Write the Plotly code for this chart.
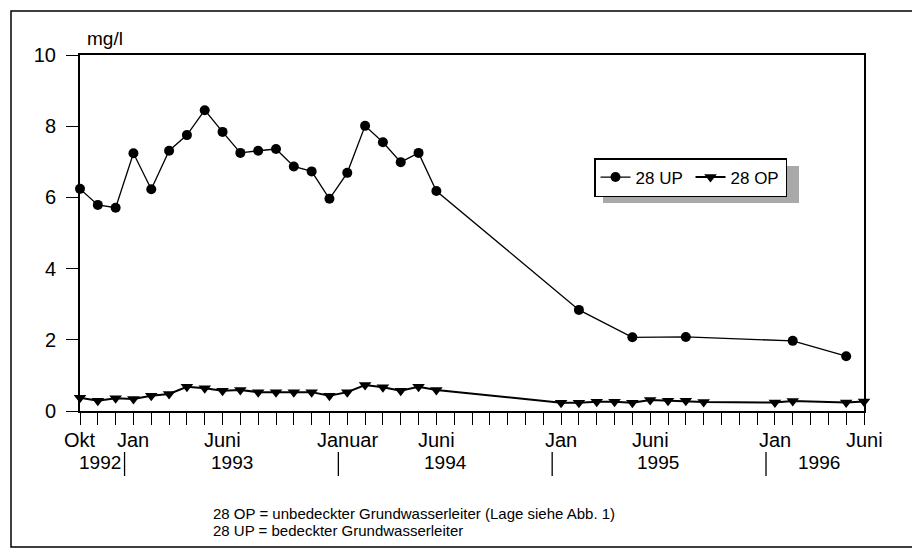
import plotly.graph_objects as go

# ---- data ----
up_dates = ["1992-10", "1992-11", "1992-12", "1993-01", "1993-02", "1993-03", "1993-04",
            "1993-05", "1993-06", "1993-07", "1993-08", "1993-09", "1993-10", "1993-11",
            "1993-12", "1994-01", "1994-02", "1994-03", "1994-04", "1994-05", "1994-06",
            "1995-02", "1995-05", "1995-08", "1996-02", "1996-05"]
up_values = [6.24, 5.79, 5.71, 7.24, 6.23, 7.31, 7.75, 8.45, 7.84, 7.25, 7.31, 7.36, 6.87,
             6.73, 5.96, 6.69, 8.01, 7.55, 6.99, 7.25, 6.18, 2.84, 2.07, 2.08, 1.97, 1.54]

op_dates = ["1992-10", "1992-11", "1992-12", "1993-01", "1993-02", "1993-03", "1993-04",
            "1993-05", "1993-06", "1993-07", "1993-08", "1993-09", "1993-10", "1993-11",
            "1993-12", "1994-01", "1994-02", "1994-03", "1994-04", "1994-05", "1994-06",
            "1995-01", "1995-02", "1995-03", "1995-04", "1995-05", "1995-06", "1995-07",
            "1995-08", "1995-09", "1996-01", "1996-02", "1996-05", "1996-06"]
op_values = [0.37, 0.29, 0.36, 0.34, 0.43, 0.48, 0.68, 0.64, 0.57, 0.59, 0.53, 0.53, 0.53,
             0.53, 0.43, 0.53, 0.73, 0.67, 0.57, 0.68, 0.59, 0.23, 0.23, 0.26, 0.26, 0.23,
             0.31, 0.29, 0.29, 0.25, 0.24, 0.28, 0.24, 0.27]

month_labels = ["Okt", "Jan", "Juni", "Januar", "Juni", "Jan", "Juni", "Jan", "Juni"]
month_label_dates = ["1992-10", "1993-01", "1993-06", "1994-01", "1994-06",
                     "1995-01", "1995-06", "1996-01", "1996-06"]
year_labels = ["1992", "1993", "1994", "1995", "1996"]
year_label_pos = [1.1, 8.55, 20.5, 32.45, 41.5]       # in months since Okt 1992
year_separators = [2.5, 14.5, 26.5, 38.5]
footnotes = ["28 OP = unbedeckter Grundwasserleiter (Lage siehe Abb. 1)",
             "28 UP = bedeckter Grundwasserleiter"]
y_unit = "mg/l"


def month_index(d):
    y, m = d.split("-")
    return (int(y) - 1992) * 12 + int(m) - 10


up_x = [month_index(d) for d in up_dates]
op_x = [month_index(d) for d in op_dates]

FONT = "Liberation Sans, Arial, sans-serif"

fig = go.Figure()
fig.add_trace(go.Scatter(
    x=up_x, y=up_values, name="28 UP", mode="lines+markers",
    line=dict(color="black", width=1.3),
    marker=dict(symbol="circle", size=10, color="black"),
    cliponaxis=False))
fig.add_trace(go.Scatter(
    x=op_x, y=op_values, name="28 OP", mode="lines+markers",
    line=dict(color="black", width=2),
    marker=dict(symbol="triangle-down", size=11, color="black"),
    cliponaxis=False))

OFF = 8  # page body margin
W, H = 920 - OFF, 553 - OFF
L, T = 80 - OFF, 55 - OFF
pw, ph = 784, 356
R, B = W - L - pw, H - T - ph


def px_x(px):
    return (px - OFF - L) / pw


def px_y(py):
    return (T + ph - (py - OFF)) / ph


shapes = []
# outer frame
shapes.append(dict(type="rect", xref="paper", yref="paper",
                   x0=px_x(11), x1=px_x(915), y0=px_y(547), y1=px_y(11),
                   line=dict(color="black", width=1.5), layer="below"))
# legend shadow
shapes.append(dict(type="rect", xref="paper", yref="paper",
                   x0=px_x(603), x1=px_x(799), y0=px_y(203), y1=px_y(166),
                   line=dict(width=0), fillcolor="#a9a9a9", layer="below"))
# year separators
for s in year_separators:
    shapes.append(dict(type="line", xref="x", yref="paper", x0=s, x1=s,
                       y0=px_y(476), y1=px_y(452),
                       line=dict(color="black", width=1.3)))

annotations = []
for t, d in zip(month_labels, month_label_dates):
    annotations.append(dict(x=month_index(d), y=px_y(440), xref="x", yref="paper",
                            text=t, showarrow=False, xanchor="center", yanchor="middle",
                            font=dict(family=FONT, size=20, color="black")))
for t, p in zip(year_labels, year_label_pos):
    annotations.append(dict(x=p, y=px_y(463), xref="x", yref="paper",
                            text=t, showarrow=False, xanchor="center", yanchor="middle",
                            font=dict(family=FONT, size=19, color="black")))
for i, t in enumerate(footnotes):
    annotations.append(dict(x=px_x(211), y=px_y(513 + 17 * i), xref="paper", yref="paper",
                            text=t, showarrow=False, xanchor="left", yanchor="middle",
                            font=dict(family=FONT, size=15, color="black")))
annotations.append(dict(x=px_x(85), y=px_y(39), xref="paper", yref="paper",
                        text=y_unit, showarrow=False, xanchor="left", yanchor="middle",
                        font=dict(family=FONT, size=19, color="black")))

fig.update_layout(
    width=W, height=H,
    margin=dict(l=L, r=R, t=T, b=B, autoexpand=False),
    paper_bgcolor="white", plot_bgcolor="white",
    font=dict(family=FONT, color="black"),
    showlegend=True,
    legend=dict(orientation="h", x=px_x(594), y=px_y(158), xanchor="left", yanchor="top",
                bgcolor="white", bordercolor="black", borderwidth=1.5,
                font=dict(family=FONT, size=17, color="black"),
                entrywidth=50, entrywidthmode="pixels", tracegroupgap=0),
    xaxis=dict(range=[0, 44], tick0=0, dtick=1, ticks="outside", ticklen=12,
               tickcolor="black", tickwidth=1, showticklabels=False,
               showgrid=False, zeroline=False, showline=True, linecolor="black",
               linewidth=2, mirror=True, fixedrange=True),
    yaxis=dict(range=[0, 10], tick0=0, dtick=2, ticks="outside", ticklen=12,
               tickcolor="black", tickwidth=1, showgrid=False, zeroline=False,
               showline=True, linecolor="black", linewidth=2, mirror=True,
               tickfont=dict(family=FONT, size=20, color="black"),
               ticklabelstandoff=6, fixedrange=True),
    shapes=shapes,
    annotations=annotations,
)

fig.write_html("out.html")
